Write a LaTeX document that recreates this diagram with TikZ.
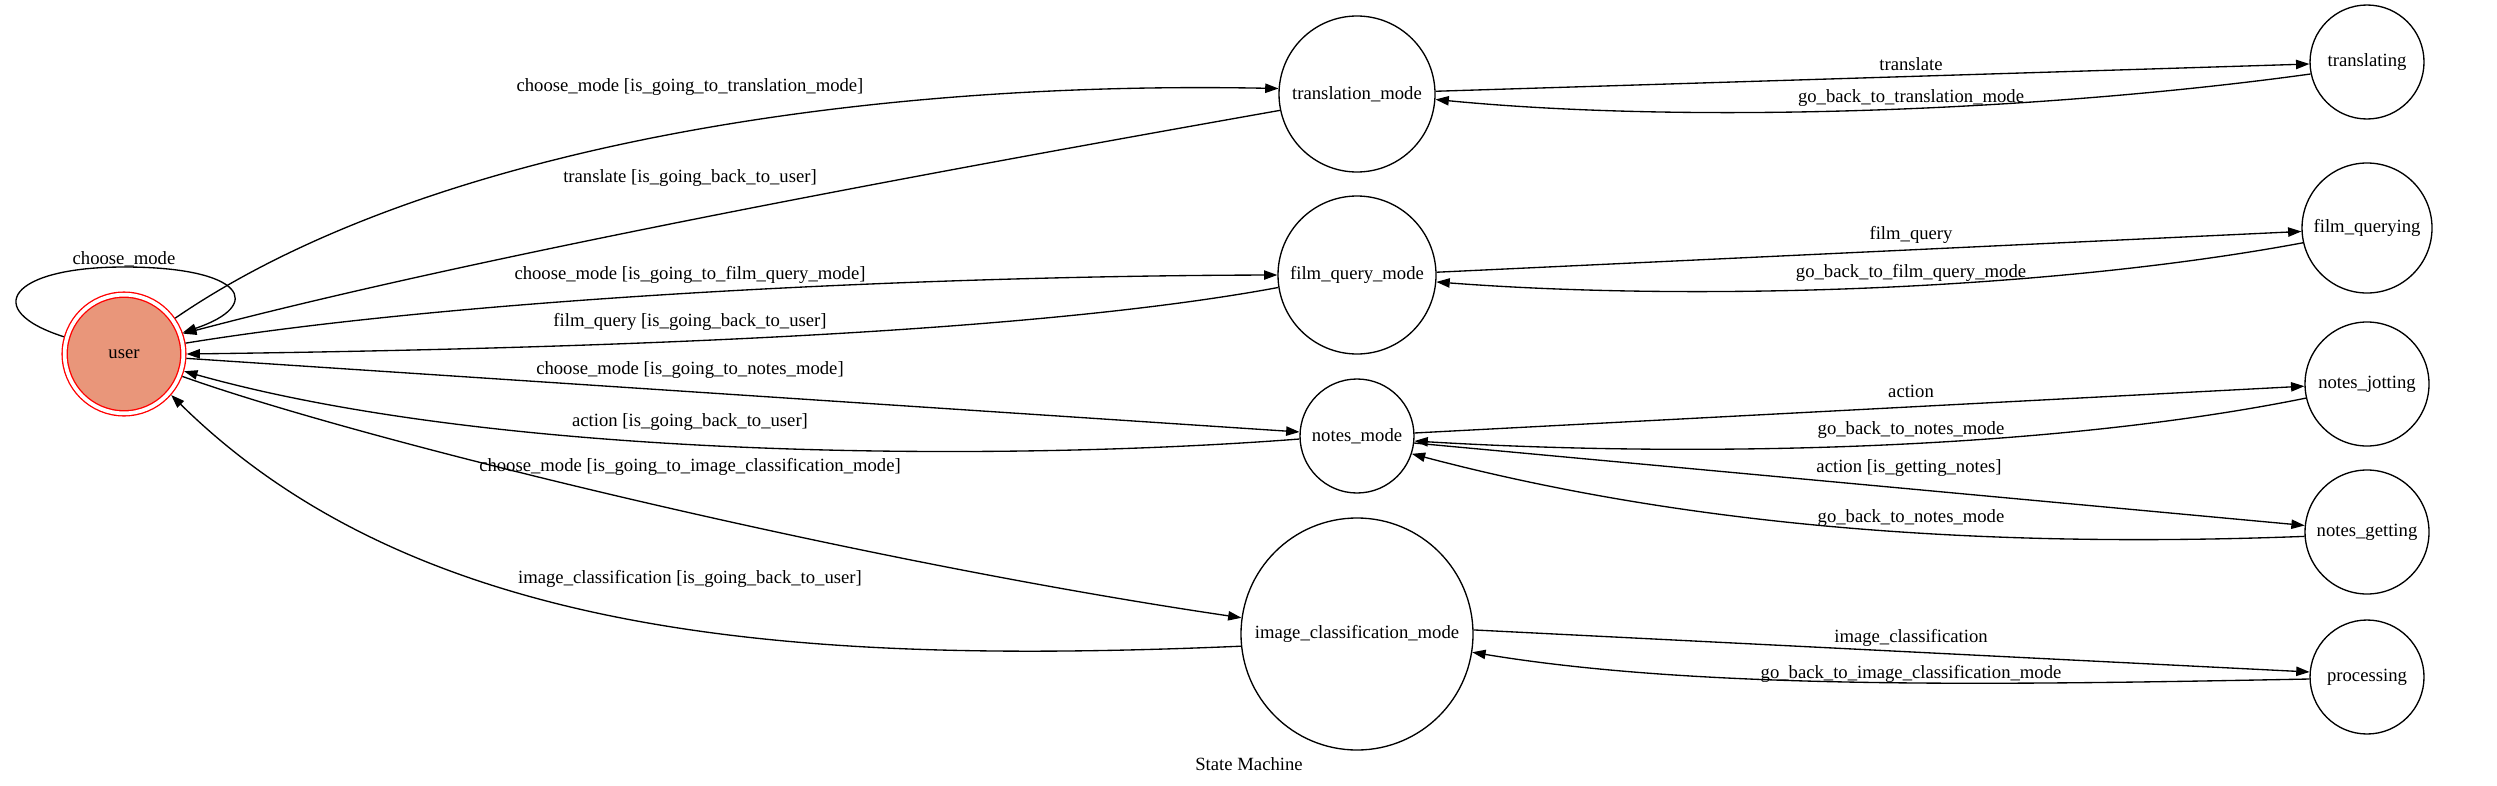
\documentclass[tikz,border=0pt]{standalone}
\usepackage{fontspec}
\setmainfont{Liberation Serif}
\usepackage{tikz}
\usetikzlibrary{arrows.meta}
\usepackage{xcolor}
\definecolor{mysalmon}{HTML}{E9967A}
\tikzset{every text node part/.style={align=center, font={\fontsize{14}{16}\selectfont}}}
\tikzstyle{st} = [draw=black, circle, inner sep=0pt, line width=1pt]
\tikzstyle{lbl} = [inner sep=0pt]
\tikzstyle{ln} = [draw, line width=1pt, -{Triangle[length=10pt, width=7pt]}]

\begin{document}
\begin{tikzpicture}[x=0.75pt, y=-0.75pt]
  \useasboundingbox (0,0) rectangle (2497,785);
  % states
  \node[st, draw=red, fill=mysalmon, double=white, double distance=2.8pt, outer sep=2.4pt, minimum size=89pt] (user) at (124,354) {user};
  \node[st, minimum size=117pt] (transmode) at (1357,94) {translation\_mode};
  \node[st, minimum size=118.5pt] (filmmode) at (1357,275) {film\_query\_mode};
  \node[st, minimum size=85.5pt] (notesmode) at (1357,436) {notes\_mode};
  \node[st, minimum size=174pt] (imgmode) at (1357,634) {image\_classification\_mode};
  \node[st, minimum size=85.5pt] (translating) at (2367,62) {translating};
  \node[st, minimum size=97.5pt] (filmquerying) at (2367,228) {film\_querying};
  \node[st, minimum size=93pt] (notesjotting) at (2367,384) {notes\_jotting};
  \node[st, minimum size=93pt] (notesgetting) at (2367,532) {notes\_getting};
  \node[st, minimum size=85.5pt] (processing) at (2367,677) {processing};
  % user <-> modes
  \draw[ln] (user.164) .. controls (-20,310) and (10,267) .. (124,267) .. controls (245,267) and (265,305) .. (user.20);
  \draw[ln] (user.35) .. controls (420,150) and (850,80) .. (transmode.176);
  \draw[ln] (transmode.192) .. controls (1000,160) and (500,250) .. (user.19);
  \draw[ln] (user.10) .. controls (450,300) and (900,276) .. (filmmode.180);
  \draw[ln] (filmmode.189) .. controls (1050,330) and (650,348) .. (user.0);
  \draw[ln] (user.-4) -- (notesmode.176);
  \draw[ln] (notesmode.183) .. controls (1000,462) and (500,460) .. (user.-16);
  \draw[ln] (user.-21) .. controls (360,440) and (850,560) .. (imgmode.172);
  \draw[ln] (imgmode.186) .. controls (800,665) and (420,640) .. (user.-41);
  % modes <-> workers
  \draw[ln] (transmode.2) -- (translating.182);
  \draw[ln] (translating.192) .. controls (2050,110) and (1700,125) .. (transmode.-4);
  \draw[ln] (filmmode.2) -- (filmquerying.183);
  \draw[ln] (filmquerying.193) .. controls (2050,290) and (1700,302) .. (filmmode.-5);
  \draw[ln] (notesmode.3) -- (notesjotting.182);
  \draw[ln] (notesjotting.193) .. controls (2050,450) and (1700,458) .. (notesmode.-5);
  \draw[ln] (notesmode.-7) -- (notesgetting.174);
  \draw[ln] (notesgetting.184) .. controls (2000,548) and (1700,530) .. (notesmode.-18);
  \draw[ln] (imgmode.2) -- (processing.175);
  \draw[ln] (processing.182) .. controls (2000,685) and (1700,690) .. (imgmode.-9);
  % labels
  \node[lbl] (lloop) at (124,259) {choose\_mode};
  \node[lbl] (ltotrans) at (690,87) {choose\_mode [is\_going\_to\_translation\_mode]};
  \node[lbl] (lfromtrans) at (690,178) {translate [is\_going\_back\_to\_user]};
  \node[lbl] (ltofilm) at (690,275) {choose\_mode [is\_going\_to\_film\_query\_mode]};
  \node[lbl] (lfromfilm) at (690,322) {film\_query [is\_going\_back\_to\_user]};
  \node[lbl] (ltonotes) at (690,370) {choose\_mode [is\_going\_to\_notes\_mode]};
  \node[lbl] (lfromnotes) at (690,422) {action [is\_going\_back\_to\_user]};
  \node[lbl] (ltoimg) at (690,467) {choose\_mode [is\_going\_to\_image\_classification\_mode]};
  \node[lbl] (lfromimg) at (690,579) {image\_classification [is\_going\_back\_to\_user]};
  \node[lbl] (ltranslate) at (1911,64) {translate};
  \node[lbl] (lbacktrans) at (1911,98) {go\_back\_to\_translation\_mode};
  \node[lbl] (lfilmquery) at (1911,235) {film\_query};
  \node[lbl] (lbackfilm) at (1911,273) {go\_back\_to\_film\_query\_mode};
  \node[lbl] (laction) at (1911,391) {action};
  \node[lbl] (lbacknotes) at (1911,430) {go\_back\_to\_notes\_mode};
  \node[lbl] (lgetting) at (1909,468) {action [is\_getting\_notes]};
  \node[lbl] (lbacknotestwo) at (1911,518) {go\_back\_to\_notes\_mode};
  \node[lbl] (limgclass) at (1911,638) {image\_classification};
  \node[lbl] (lbackimg) at (1911,674) {go\_back\_to\_image\_classification\_mode};
  \node[lbl] (title) at (1249,764) {State Machine};
\end{tikzpicture}
\end{document}
